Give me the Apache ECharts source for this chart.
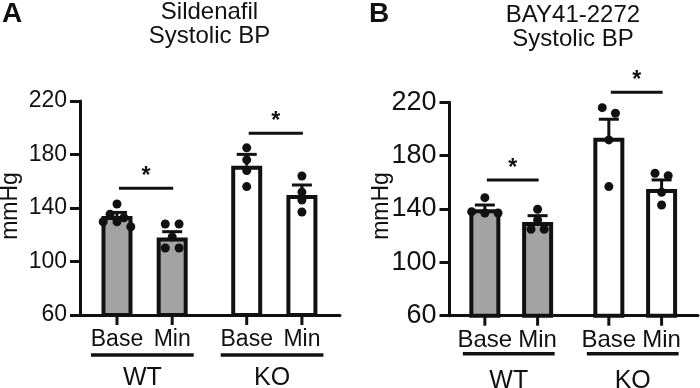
<!DOCTYPE html>
<html>
<head>
<meta charset="utf-8">
<script src="https://cdn.jsdelivr.net/npm/echarts@6/dist/echarts.min.js"></script>
<style>
html, body { margin: 0; padding: 0; background: #fff; }
#chart { width: 700px; height: 388px; }
</style>
</head>
<body>
<div id="chart"></div>
<script>
// labels
var yTicks = [60, 100, 140, 180, 220];
var conditions = ['Base', 'Min', 'Base', 'Min'];
var groups = ['WT', 'KO'];
var titles = ['Sildenafil\nSystolic BP', 'BAY41-2272\nSystolic BP'];
var letters = ['A', 'B'];

// panel A - sildenafil (WT base, WT min, KO base, KO min)
var sildMean = [134, 118, 171.6, 149.7];
var sildErr = [2.7, 4.3, 8.5, 7.5];
var sildPoints = [
    [143, 135.3, 132.7, 129.7, 129.7, 126],
    [128, 128, 118.3, 110.1, 110.1],
    [185, 176, 168, 156],
    [163.9, 151.9, 146, 137]
];
var sildSig = [154.7, 195.9];

// panel B - BAY41-2272
var bayMean = [139.8, 130.3, 193.5, 155];
var bayErr = [3.2, 4.7, 13.8, 6.8];
var bayPoints = [
    [148.5, 138, 137, 137],
    [139.8, 131.8, 124.8, 124.8],
    [216, 211.8, 191.8, 156.8],
    [166.8, 165, 152.6, 143]
];
var baySig = [161.8, 227.6];

var panels = [
    {mean: sildMean, err: sildErr, points: sildPoints, sig: sildSig},
    {mean: bayMean, err: bayErr, points: bayPoints, sig: baySig}
];

var font = 'Liberation Sans, Arial, sans-serif';
var black = '#111';
var gray = '#a3a3a3';

// layout per panel
var layout = [
    {grid: {left: 80, top: 101, width: 260, height: 214}, tickFont: 23, catFont: 23, groupFont: 25, under: [-26, 21.5],
     underY: 40, groupY: 63, titleX: 209.5, titleY: [12.5, 36], letterX: 2, nameX: 11},
    {grid: {left: 449.5, top: 102.3, width: 248.5, height: 213.4}, tickFont: 27, catFont: 24, groupFont: 25, under: [-22, 17],
     underY: 38, groupY: 65, titleX: 573, titleY: [15.5, 39], letterX: 369, nameX: 382}
];

// x position of a bar: two per group, wider gap between groups
function barPos(i) {
    return 1 + i + (i >= 2 ? 0.35 : 0);
}

// spread dots that overlap into rows, like a beeswarm
function swarm(values, x) {
    var sorted = values.slice().sort(function (a, b) { return b - a; });
    var rows = [];
    sorted.forEach(function (v) {
        var row = rows[rows.length - 1];
        if (row && row[0] - v < 5) row.push(v);
        else rows.push([v]);
    });
    var out = [];
    rows.forEach(function (row) {
        row.forEach(function (v, k) {
            out.push([x + (k - (row.length - 1) / 2) * 0.25, v]);
        });
    });
    return out;
}

var chart = echarts.init(document.getElementById('chart'));
var option = {animation: false, grid: [], xAxis: [], yAxis: [], series: [], graphic: []};

panels.forEach(function (p, k) {
    var L = layout[k];
    option.grid.push(L.grid);
    option.xAxis.push({
        type: 'value', gridIndex: k, min: 0.33, max: 5.04,
        axisLine: {lineStyle: {color: black, width: 3}},
        axisTick: {show: false}, axisLabel: {show: false}, splitLine: {show: false}
    });
    option.yAxis.push({
        type: 'value', gridIndex: k, min: yTicks[0], max: yTicks[yTicks.length - 1], interval: 40,
        axisLine: {show: true, lineStyle: {color: black, width: 3}},
        axisTick: {show: true, length: 10, lineStyle: {color: black, width: 3}},
        axisLabel: {fontSize: L.tickFont, color: black, margin: 13, fontFamily: font},
        splitLine: {show: false}
    });

    // bars
    option.series.push({
        type: 'bar', xAxisIndex: k, yAxisIndex: k, barWidth: 31, z: 2,
        itemStyle: {borderColor: black, borderWidth: 4},
        data: p.mean.map(function (m, i) {
            return {value: [barPos(i), m], itemStyle: {color: i < 2 ? gray : '#fff'}};
        })
    });

    // SEM (upper half only)
    option.series.push({
        type: 'custom', xAxisIndex: k, yAxisIndex: k, z: 3,
        data: p.mean.map(function (m, i) { return [barPos(i), m, p.err[i]]; }),
        renderItem: function (params, api) {
            var a = api.coord([api.value(0), api.value(1)]);
            var b = api.coord([api.value(0), api.value(1) + api.value(2)]);
            return {type: 'group', children: [
                {type: 'line', shape: {x1: a[0], y1: a[1], x2: b[0], y2: b[1]}, style: {stroke: black, lineWidth: 3}},
                {type: 'line', shape: {x1: b[0] - 10, y1: b[1], x2: b[0] + 10, y2: b[1]}, style: {stroke: black, lineWidth: 3}}
            ]};
        }
    });

    // individual animals
    var dots = [];
    p.points.forEach(function (vals, i) { dots = dots.concat(swarm(vals, barPos(i))); });
    option.series.push({
        type: 'scatter', xAxisIndex: k, yAxisIndex: k, z: 4, symbolSize: 9,
        itemStyle: {color: black, opacity: 1}, data: dots
    });

    // significance bars
    option.series.push({
        type: 'custom', xAxisIndex: k, yAxisIndex: k, z: 4,
        encode: {x: [0, 1], y: 2},
        data: groups.map(function (g, j) { return [barPos(2 * j), barPos(2 * j + 1), p.sig[j]]; }),
        renderItem: function (params, api) {
            var a = api.coord([api.value(0), api.value(2)]);
            var b = api.coord([api.value(1), api.value(2)]);
            return {type: 'group', children: [
                {type: 'line', shape: {x1: a[0] + 2, y1: a[1], x2: b[0] + 1, y2: b[1]}, style: {stroke: black, lineWidth: 3}},
                {type: 'text', style: {x: (a[0] + b[0]) / 2 + 1.5, y: a[1], text: '*', fill: black,
                    font: 'bold 23px ' + font, textAlign: 'center', textVerticalAlign: 'bottom'}}
            ]};
        }
    });

    // x ticks and condition labels
    option.series.push({
        type: 'custom', xAxisIndex: k, yAxisIndex: k, z: 4,
        data: conditions.map(function (c, i) { return [barPos(i), yTicks[0], i]; }),
        renderItem: function (params, api) {
            var a = api.coord([api.value(0), api.value(1)]);
            return {type: 'group', children: [
                {type: 'line', shape: {x1: a[0], y1: a[1], x2: a[0], y2: a[1] + 10}, style: {stroke: black, lineWidth: 3}},
                {type: 'text', style: {x: a[0], y: a[1] + 25, text: conditions[api.value(2)], fill: black,
                    font: L.catFont + 'px ' + font, textAlign: 'center', textVerticalAlign: 'middle'}}
            ]};
        }
    });

    // genotype underline and label
    option.series.push({
        type: 'custom', xAxisIndex: k, yAxisIndex: k, z: 4,
        encode: {x: [0, 1], y: 2},
        data: groups.map(function (g, j) { return [barPos(2 * j), barPos(2 * j + 1), yTicks[0], j]; }),
        renderItem: function (params, api) {
            var a = api.coord([api.value(0), api.value(2)]);
            var b = api.coord([api.value(1), api.value(2)]);
            return {type: 'group', children: [
                {type: 'line', shape: {x1: a[0] + L.under[0], y1: a[1] + L.underY, x2: b[0] + L.under[1], y2: a[1] + L.underY},
                    style: {stroke: black, lineWidth: 3.5}},
                {type: 'text', style: {x: (a[0] + L.under[0] + b[0] + L.under[1]) / 2, y: a[1] + L.groupY, text: groups[api.value(3)],
                    fill: black, font: L.groupFont + 'px ' + font, textAlign: 'center', textVerticalAlign: 'middle'}}
            ]};
        }
    });

    var lines = titles[k].split('\n');
    lines.forEach(function (t, j) {
        option.graphic.push({type: 'text', x: L.titleX, y: L.titleY[j],
            style: {text: t, fill: black, font: '24px ' + font, textAlign: 'center', textVerticalAlign: 'middle'}});
    });
    option.graphic.push({type: 'text', x: L.letterX, y: 0,
        style: {text: letters[k], fill: black, font: 'bold 28px ' + font, textAlign: 'left', textVerticalAlign: 'top'}});
    option.graphic.push({type: 'text', x: L.nameX, y: 206, rotation: Math.PI / 2,
        style: {text: 'mmHg', fill: black, font: '23px ' + font, textAlign: 'center', textVerticalAlign: 'middle'}});
});

chart.setOption(option);
</script>
</body>
</html>
